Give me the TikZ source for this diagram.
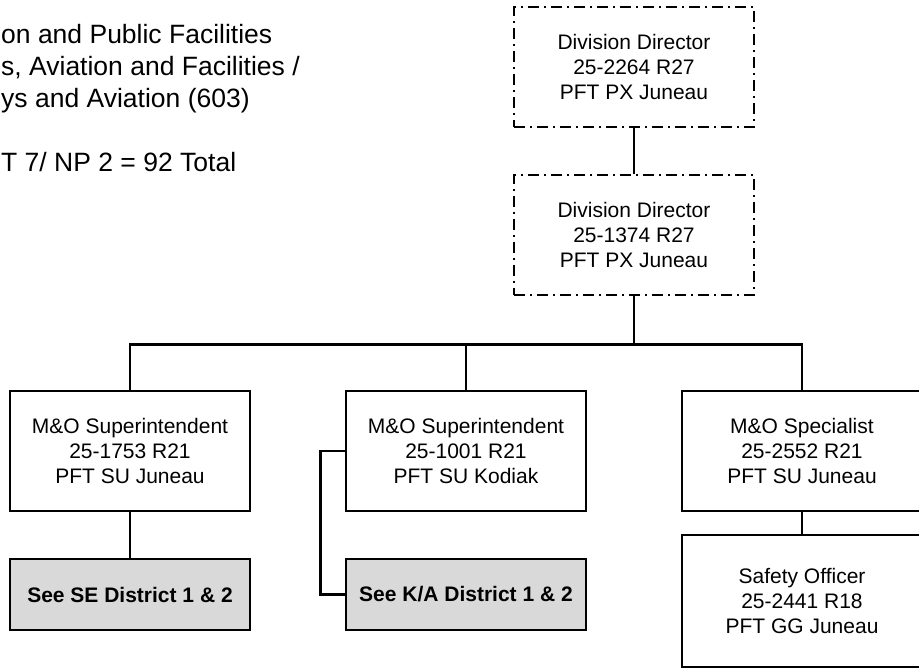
\documentclass[tikz,border=0pt]{standalone}
\usepackage{fontspec}
\setmainfont{Liberation Sans}
\usetikzlibrary{positioning}

\definecolor{seegray}{HTML}{D9D9D9}

\tikzset{
  post/.style={draw, line width=2.6pt, minimum width=240pt, minimum height=120pt,
    inner sep=0pt, align=center, font=\fontsize{21}{25}\selectfont},
  director/.style={post, line width=2pt, dash pattern=on 11pt off 5pt on 2pt off 5pt},
  seebox/.style={post, fill=seegray, minimum height=71pt,
    font=\fontsize{21}{25}\selectfont\bfseries},
  link/.style={line width=2.6pt},
  header/.style={anchor=base west, inner sep=0pt, font=\fontsize{26.5}{32}\selectfont},
}

\begin{document}
\begin{tikzpicture}[x=1pt, y=-1pt]
		\def\W{919};
		\def\H{670};

		\clip (0,0) rectangle (\W,\H);

		% header at the left edge
		\node[header] (hdrA) at (1,43) {on and Public Facilities};
		\node[header] (hdrB) at (1,75) {s, Aviation and Facilities /};
		\node[header] (hdrC) at (1,107) {ys and Aviation (603)};
		\node[header] (hdrD) at (1,171) {T 7/ NP 2 = 92 Total};

		\node[director] (dirTop) at (634,67) {Division Director\\25-2264 R27\\PFT PX Juneau};
		\node[director] (dirMid) at (634,234.5) {Division Director\\25-1374 R27\\PFT PX Juneau};

		\node[post] (supJun) at (130,451) {M\&O Superintendent\\25-1753 R21\\PFT SU Juneau};
		\node[post] (supKod) at (466,451) {M\&O Superintendent\\25-1001 R21\\PFT SU Kodiak};
		\node[post] (specJun) at (802,451) {M\&O Specialist\\25-2552 R21\\PFT SU Juneau};

		\node[seebox] (seeSE) at (130,594.5) {See SE District 1 \& 2};
		\node[seebox] (seeKA) at (466,594.5) {See K/A District 1 \& 2};
		\node[post, minimum height=132pt] (safety) at (802,601) {Safety Officer\\25-2441 R18\\PFT GG Juneau};

		\begin{scope}[link]
			\draw (dirTop) -- (dirMid);
			\draw (dirMid.south) -- ++(0,49) coordinate (bus);
			\draw (supJun.north) |- (specJun.north |- bus) -- (specJun.north);
			\draw (supKod.north) -- (supKod.north |- bus);
			\draw (supJun) -- (seeSE);
			\draw (supKod.west) -- ++(-24,0) |- (seeKA.west);
			\draw (specJun) -- (safety);
		\end{scope}
	\end{tikzpicture}
\end{document}
